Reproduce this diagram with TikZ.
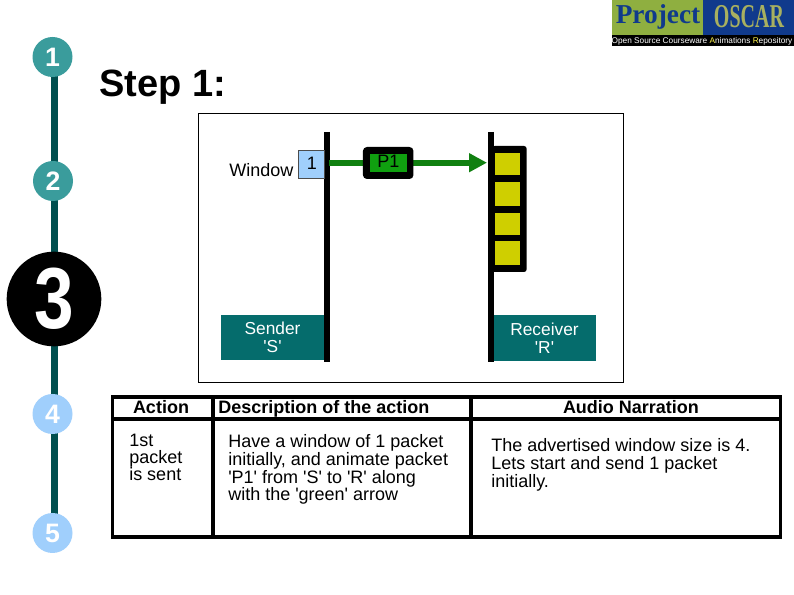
\documentclass[tikz,border=0pt]{standalone}
\usepackage{fontspec}
\setmainfont[Ligatures=TeXOff]{Liberation Sans}
\newfontfamily\logofont{Liberation Serif}
\usetikzlibrary{arrows.meta}
\definecolor{stem}{HTML}{004F4F}
\definecolor{teal1}{HTML}{3A9C9C}
\definecolor{sky}{HTML}{A0CFFC}
\definecolor{labelbg}{HTML}{056C6C}
\definecolor{pkt}{HTML}{10A010}
\definecolor{arrowg}{HTML}{108010}
\definecolor{slot}{HTML}{CFCF00}
\definecolor{logog}{HTML}{8FAF40}
\definecolor{logob}{HTML}{103A8C}
\definecolor{logot}{HTML}{A8B060}
\tikzset{
  x=0.75pt,y=-0.75pt,
  box/.style={inner sep=0pt,outer sep=0pt,draw=none},
  stepdot/.style={circle,inner sep=0pt,minimum size=30pt,text=white,font=\bfseries\fontsize{20}{20}\selectfont},
  body/.style={inner sep=0pt,align=left,anchor=north west,font=\fontsize{13.5}{13}\selectfont},
  head/.style={inner sep=0pt,font=\bfseries\fontsize{13.5}{15}\selectfont},
  tag/.style={box,fill=labelbg,text=white,align=center,font=\fontsize{13}{13.5}\selectfont,minimum width=77.5pt,minimum height=34pt},
  slotbox/.style={box,fill=slot,minimum width=18.75pt},
  wire/.style={line width=4.5pt,black},
  grid/.style={line width=2.6pt,black},
}
\begin{document}
\begin{tikzpicture}
\useasboundingbox (0,0) rectangle (794,595);
\fill[white] (0,0) rectangle (794,595);
% logo
\node[box,fill=logog,minimum width=68.25pt,minimum height=26.25pt,anchor=north west] (lg) at (612,0) {};
\node[box,fill=logob,minimum width=68.25pt,minimum height=26.25pt,anchor=north west] (lb) at (703,0) {};
\node[box,fill=black,minimum width=136.5pt,minimum height=8.25pt,anchor=north west] (lk) at (612,35) {};
\node[inner sep=0pt,anchor=base,text=logob,font=\logofont\bfseries\fontsize{20.5}{22}\selectfont] (lp) at (658,23.5) {Project};
\node[inner sep=0pt,anchor=base,text=logot,font=\logofont\bfseries\fontsize{25}{26}\selectfont] (lo) at (749,28) {\scalebox{0.6}[1]{OSCAR}};
\node[inner sep=0pt,text=white,font=\fontsize{6.2}{7}\selectfont] (ls) at (702,41) {Open Source Courseware \textcolor{yellow!70!white}{A}nimations \textcolor{yellow!70!white}{R}epository};
% step rail
\coordinate (railtop) at (54.5,57);
\coordinate (railbot) at (54.5,533);
\draw[stem,line width=5.2pt] (railtop) -- (railbot);
\node[stepdot,fill=teal1] (s1) at (52.5,57) {1};
\node[stepdot,fill=teal1] (s2) at (53,181) {2};
\node[stepdot,fill=black,minimum size=71pt] (s3) at (54,299) {\fontsize{65}{65}\selectfont\scalebox{0.82}[1]{3}};
\node[stepdot,fill=sky] (s4) at (52.5,414) {4};
\node[stepdot,fill=sky] (s5) at (52.5,533) {5};
% title
\node[inner sep=0pt,anchor=base west,font=\bfseries\fontsize{28.5}{30}\selectfont] (title) at (99,97) {Step 1:};
% frame
\node[box,draw=black,line width=0.7pt,minimum width=318.75pt,minimum height=201.75pt,anchor=north west] (frame) at (198,113) {};
% labels
\node[tag] (sender) at (272.5,337.5) {Sender\\'S'};
\node[tag] (receiver) at (544.5,338) {Receiver\\'R'};
% timelines
\coordinate (st) at (326.5,132);
\coordinate (sb) at (326.5,362);
\coordinate (rt) at (491,132);
\coordinate (rb) at (491,362);
\draw[wire] (st) -- (sb);
\draw[wire] (rt) -- (rb);
% window
\node[box,draw=black!70,line width=0.4pt,fill=sky,minimum width=19.5pt,minimum height=21pt] (win) at (311,164) {};
\node[inner sep=0pt,font=\fontsize{13.5}{14}\selectfont] (one) at (312,163) {1};
\node[inner sep=0pt,anchor=base west,font=\fontsize{13.5}{14}\selectfont] (wl) at (229,177) {Window};
% queue
\node[box,fill=black,rounded corners=2pt,minimum width=26pt,minimum height=94.5pt,anchor=north west] (queue) at (492,146) {};
\node[slotbox,minimum height=16.5pt] (q1) at (507.5,164) {};
\node[slotbox,minimum height=18pt] (q2) at (507.5,194) {};
\node[slotbox,minimum height=16.5pt] (q3) at (507.5,224) {};
\node[slotbox,minimum height=18pt] (q4) at (507.5,253) {};
% arrow and packet
\coordinate (from) at (328.5,162.7);
\coordinate (to) at (487,162.7);
\draw[arrowg,line width=4.5pt,-{Triangle[length=13.5pt,width=13.5pt]}] (from) -- (to);
\node[box,fill=black,rounded corners=3pt,minimum width=37.9pt,minimum height=24pt] (pout) at (388.2,163) {};
\node[box,fill=pkt,minimum width=27.75pt,minimum height=13.5pt] (pin) at (388.5,163) {};
\node[inner sep=0pt,font=\fontsize{13.5}{14}\selectfont] (plabel) at (388.5,161.5) {P1};
% table
\node[box,draw=black,line width=2.6pt,minimum width=501pt,minimum height=105pt,anchor=north west] (tbl) at (112.5,397) {};
\coordinate (h1) at (112.5,419);
\coordinate (h2) at (780.5,419);
\coordinate (c1t) at (213,397);
\coordinate (c1b) at (213,537);
\coordinate (c2t) at (471,397);
\coordinate (c2b) at (471,537);
\draw[grid] (h1) -- (h2);
\draw[grid] (c1t) -- (c1b);
\draw[grid] (c2t) -- (c2b);
\node[head,anchor=base] (ha) at (161,414) {Action};
\node[head,anchor=base west] (hd) at (218,414) {Description of the action};
\node[head,anchor=base] (hn) at (631,414) {Audio Narration};
\node[body] (ta) at (129,433.5) {1st\\packet\\is sent};
\node[body,font=\fontsize{13.5}{13.4}\selectfont] (td) at (228,434) {Have a window of 1 packet\\initially, and animate packet\\'P1' from 'S' to 'R' along\\with the 'green' arrow};
\node[body,font=\fontsize{13.5}{13.2}\selectfont] (tn) at (491,438.5) {The advertised window size is 4.\\Lets start and send 1 packet\\initially.};
\end{tikzpicture}
\end{document}
